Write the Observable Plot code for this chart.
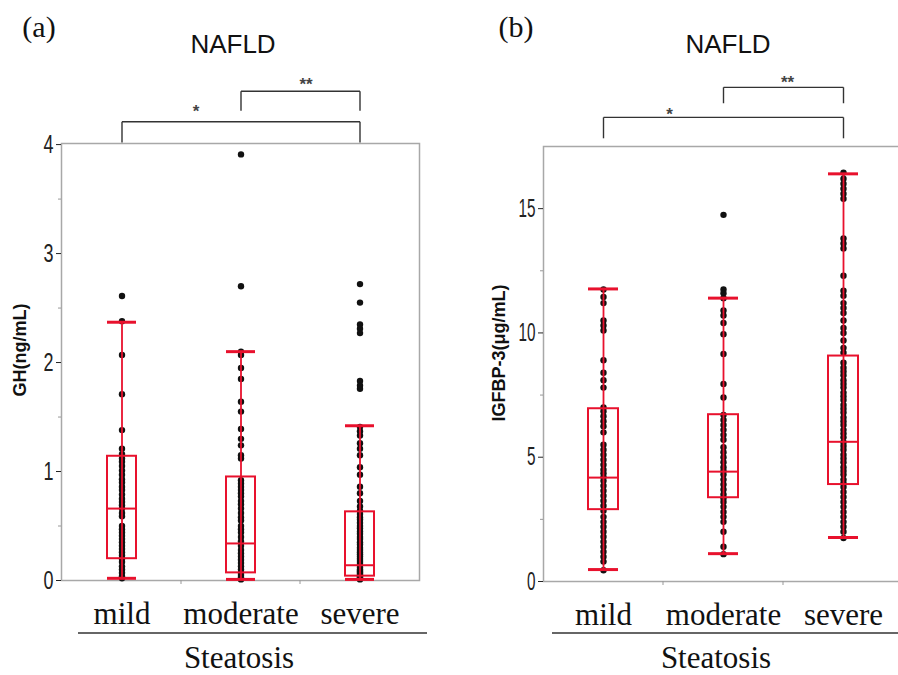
<!DOCTYPE html>
<html><head><meta charset="utf-8">
<script src="https://cdn.jsdelivr.net/npm/d3@7"></script>
<script src="https://cdn.jsdelivr.net/npm/@observablehq/plot@0.6"></script>
<style>
body{margin:0;background:#fff;}
#fig{position:relative;width:898px;height:675px;overflow:hidden;background:#fff;}
#pa{position:absolute;left:0;top:0;width:449px;}
#pb{position:absolute;left:449px;top:0;width:463px;}
#fig svg{max-width:none !important;}
#ov{position:absolute;left:0;top:0;pointer-events:none;}
</style></head><body>
<div id="fig"><div id="pa"></div><div id="pb"></div></div>
<script>
// ---------- data ----------
const categories = ["mild", "moderate", "severe"];
const panelLabels = ["(a)", "(b)"];
const panelTitle = "NAFLD";
const xTitle = "Steatosis";
const ghLabel = "GH(ng/mL)";
const igLabel = "IGFBP-3(μg/mL)";

const ghTicks = [0, 1, 2, 3, 4];
const ghMinorTicks = [0.5, 1.5, 2.5, 3.5];
const igTicks = [0, 5, 10, 15];
const igMinorTicks = [2.5, 7.5, 12.5];

// box statistics (whisker low, Q1, median, Q3, whisker high)
const ghLo  = [0.02, 0.01, 0.01];
const ghQ1  = [0.20, 0.07, 0.04];
const ghMed = [0.66, 0.34, 0.14];
const ghQ3  = [1.14, 0.95, 0.63];
const ghHi  = [2.37, 2.10, 1.42];

const igLo  = [0.48, 1.12, 1.77];
const igQ1  = [2.89, 3.37, 3.90];
const igMed = [4.18, 4.42, 5.62];
const igQ3  = [6.95, 6.71, 9.07];
const igHi  = [11.77, 11.40, 16.40];

// individual observations
const ghMild = [2.61, 2.38, 2.07, 1.71, 1.38, 1.21, 1.16, 1.12, 1.09, 1.05, 1.01, 0.97, 0.93, 0.9, 0.86, 0.83, 0.79, 0.75, 0.72, 0.69, 0.66, 0.62, 0.59, 0.5, 0.47, 0.44, 0.41, 0.38, 0.35, 0.32, 0.29, 0.26, 0.23, 0.2, 0.17, 0.13, 0.1, 0.07, 0.04, 0.02];
const ghModerate = [3.91, 2.70, 2.10, 2.07, 1.95, 1.85, 1.64, 1.55, 1.39, 1.30, 1.24, 1.15, 1.12, 0.92, 0.89, 0.86, 0.83, 0.8, 0.77, 0.73, 0.7, 0.66, 0.62, 0.58, 0.55, 0.5, 0.47, 0.44, 0.4, 0.36, 0.32, 0.28, 0.25, 0.22, 0.19, 0.16, 0.13, 0.1, 0.07, 0.05, 0.03, 0.01];
const ghSevere = [2.72, 2.55, 2.35, 2.31, 2.27, 1.83, 1.79, 1.76, 1.41, 1.37, 1.33, 1.26, 1.21, 1.15, 1.04, 0.97, 0.86, 0.8, 0.73, 0.68, 0.64, 0.61, 0.58, 0.56, 0.53, 0.5, 0.48, 0.45, 0.43, 0.4, 0.38, 0.35, 0.33, 0.3, 0.28, 0.26, 0.24, 0.22, 0.2, 0.18, 0.16, 0.14, 0.12, 0.1, 0.09, 0.08, 0.07, 0.06, 0.05, 0.04, 0.03, 0.02, 0.01];

const igMild = [11.75, 11.45, 11.2, 10.5, 10.3, 10.1, 8.9, 8.4, 8.1, 7.8, 7.0, 6.85, 6.65, 6.45, 6.25, 6.0, 5.5, 5.3, 5.1, 4.9, 4.7, 4.5, 4.35, 4.2, 4.05, 3.85, 3.65, 3.45, 3.25, 3.05, 2.85, 2.6, 2.4, 2.2, 2.0, 1.8, 1.6, 1.4, 1.2, 1.0, 0.8, 0.45];
const igModerate = [14.75, 11.75, 11.6, 11.4, 10.9, 10.7, 10.4, 9.95, 9.15, 7.95, 7.4, 6.7, 6.5, 6.3, 6.1, 5.9, 5.7, 5.4, 5.2, 5.0, 4.8, 4.6, 4.45, 4.3, 4.1, 3.9, 3.7, 3.5, 3.35, 3.2, 3.0, 2.8, 2.6, 2.4, 2.0, 1.4, 1.1];
const igSevere = [16.45, 16.2, 16.0, 15.8, 15.6, 15.4, 13.8, 13.6, 13.4, 12.3, 11.7, 11.5, 11.2, 11.0, 10.8, 10.5, 10.2, 10.0, 9.7, 9.4, 9.2, 8.8, 8.6, 8.45, 8.3, 8.1, 7.95, 7.8, 7.6, 7.45, 7.3, 7.1, 6.95, 6.8, 6.6, 6.45, 6.3, 6.1, 5.95, 5.8, 5.6, 5.45, 5.3, 5.1, 4.95, 4.8, 4.6, 4.45, 4.3, 4.1, 3.95, 3.8, 3.6, 3.4, 3.2, 3.0, 2.8, 2.6, 2.4, 2.2, 2.0, 1.75];

// significance brackets (levels in data units)
const ghBrackets = [
  {from: "mild", to: "severe", level: 4.21, legEnd: 4.02, label: "*", labelAt: "moderate", labelY: 4.25, side: -1},
  {from: "moderate", to: "severe", level: 4.49, legEnd: 4.31, label: "**", labelAt: "moderate", labelY: 4.5, side: 1}
];
const igBrackets = [
  {from: "mild", to: "severe", level: 18.67, legEnd: 17.83, label: "*", labelAt: "moderate", labelY: 18.55, side: -1},
  {from: "moderate", to: "severe", level: 19.88, legEnd: 19.24, label: "**", labelAt: "moderate", labelY: 19.85, side: 1}
];

// ---------- drawing ----------
const RED = "#e8112d";
const SANS = "'Liberation Sans',Arial,sans-serif";
const SERIF = "'Liberation Serif','Times New Roman',serif";

function statsOf(lo, q1, med, q3, hi) {
  return categories.map((cat, i) => ({cat, lo: lo[i], q1: q1[i], med: med[i], q3: q3[i], hi: hi[i]}));
}
function pointsOf(groups) {
  return categories.flatMap((cat, i) => groups[i].map(v => ({cat, v})));
}

function boundaryTicks(index, scales, values, dims) {
  const g = d3.create("svg:g").attr("stroke", "#999").attr("stroke-width", 1);
  const y0 = dims.height - dims.marginBottom;
  for (let i = 1; i < categories.length; i++) {
    const xb = scales.x(categories[i]);
    g.append("line").attr("x1", xb).attr("x2", xb).attr("y1", y0).attr("y2", y0 + 4);
  }
  return g.node();
}

function panel({stats, points, ticks, minor, domain, brackets, width, marginLeft, marginRight, marginTop, marginBottom, starDx, starsDx}) {
  const legs = brackets.flatMap(b => [{x: b.from, y1: b.level, y2: b.legEnd}, {x: b.to, y1: b.level, y2: b.legEnd}]);
  const starStyle = {lineAnchor: "bottom", fontSize: 17, fontWeight: "bold", fontFamily: SANS, fill: "#444"};
  return Plot.plot({
    width, height: 675, marginLeft, marginRight, marginTop, marginBottom,
    style: {background: "transparent", overflow: "visible"},
    x: {type: "band", domain: categories, padding: 0},
    y: {domain},
    marks: [
      Plot.frame({stroke: "#a8a8a8", strokeWidth: 1.5}),
      Plot.axisY(minor, {tickSize: 3, tickFormat: () => "", color: "#999"}),
      Plot.axisY(ticks, {tickSize: 5, tickPadding: 3, tickFormat: d => String(d), fontSize: 25, fontFamily: SANS, color: "#222", label: null, ariaLabel: "ytick"}),
      Plot.axisX({tickSize: 0, tickPadding: 21, fontSize: 31, fontFamily: SERIF, color: "#111", label: null}),
      boundaryTicks,
      Plot.dot(points, {x: "cat", y: "v", r: 3.2, fill: "#111", stroke: "none"}),
      Plot.ruleX(stats, {x: "cat", y1: "lo", y2: "hi", stroke: RED, strokeWidth: 1.8}),
      Plot.tickY(stats, {x: "cat", y: "lo", stroke: RED, strokeWidth: 3, insetLeft: 45, insetRight: 45}),
      Plot.tickY(stats, {x: "cat", y: "hi", stroke: RED, strokeWidth: 3, insetLeft: 45, insetRight: 45}),
      Plot.barY(stats, {x: "cat", y1: "q1", y2: "q3", fill: "none", stroke: RED, strokeWidth: 2, insetLeft: 45, insetRight: 45}),
      Plot.tickY(stats, {x: "cat", y: "med", stroke: RED, strokeWidth: 2, insetLeft: 45, insetRight: 45}),
      Plot.link(brackets, {x1: "from", x2: "to", y1: "level", y2: "level", stroke: "#333", strokeWidth: 1.4}),
      Plot.link(legs, {x1: "x", x2: "x", y1: "y1", y2: "y2", stroke: "#333", strokeWidth: 1.4}),
      Plot.text(brackets.filter(b => b.side < 0), {x: "labelAt", y: "labelY", text: "label", dx: starDx, ...starStyle}),
      Plot.text(brackets.filter(b => b.side > 0), {x: "labelAt", y: "labelY", text: "label", dx: starsDx, ...starStyle})
    ]
  });
}

// enlarge and narrow the major y tick labels to match the condensed face of the original
function condenseTicks(svg, perChar) {
  const texts = Array.from(svg.querySelectorAll("text")).filter(t => {
    const s = t.textContent.trim();
    return s !== "" && /^\d+$/.test(s);
  });
  for (const t of texts) {
    t.style.fontSize = "25px";
    t.style.fontFamily = SANS;
    t.setAttribute("textLength", t.textContent.trim().length * perChar);
    t.setAttribute("lengthAdjust", "spacingAndGlyphs");
  }
}

const svgA = panel({
  stats: statsOf(ghLo, ghQ1, ghMed, ghQ3, ghHi),
  points: pointsOf([ghMild, ghModerate, ghSevere]),
  ticks: ghTicks, minor: ghMinorTicks, domain: [0, 4.01], brackets: ghBrackets,
  width: 449, marginLeft: 61, marginRight: 30, marginTop: 143, marginBottom: 95,
  starDx: -45, starsDx: 65
});
document.getElementById("pa").append(svgA);
condenseTicks(svgA, 10);

const svgB = panel({
  stats: statsOf(igLo, igQ1, igMed, igQ3, igHi),
  points: pointsOf([igMild, igModerate, igSevere]),
  ticks: igTicks, minor: igMinorTicks, domain: [0, 17.5], brackets: igBrackets,
  width: 463, marginLeft: 94, marginRight: 9, marginTop: 146, marginBottom: 94,
  starDx: -54, starsDx: 64
});
document.getElementById("pb").append(svgB);
condenseTicks(svgB, 8.5);

// ---------- titles, panel letters, axis titles ----------
const ov = d3.select("#fig").append("svg").attr("id", "ov").attr("width", 898).attr("height", 675);
const panels = [
  {letter: panelLabels[0], lx: 39, tx: 233, ylab: ghLabel, yx: 20, yy: 350, sx: 239, l1: 78, l2: 427},
  {letter: panelLabels[1], lx: 516, tx: 728, ylab: igLabel, yx: 499, yy: 353, sx: 716, l1: 552, l2: 898}
];
for (const p of panels) {
  ov.append("text").attr("x", p.lx).attr("y", 37).attr("text-anchor", "middle")
    .style("font", `30px ${SERIF}`).attr("fill", "#111").text(p.letter);
  ov.append("text").attr("x", p.tx).attr("y", 53).attr("text-anchor", "middle")
    .style("font", `26px ${SANS}`).attr("fill", "#111").text(panelTitle);
  ov.append("text").attr("transform", `translate(${p.yx},${p.yy}) rotate(-90)`).attr("text-anchor", "middle")
    .attr("dominant-baseline", "central").style("font", `bold 18px ${SANS}`).attr("fill", "#111").text(p.ylab);
  ov.append("line").attr("x1", p.l1).attr("x2", p.l2).attr("y1", 633).attr("y2", 633).attr("stroke", "#333").attr("stroke-width", 1.5);
  ov.append("text").attr("x", p.sx).attr("y", 668).attr("text-anchor", "middle")
    .style("font", `31px ${SERIF}`).attr("fill", "#111").text(xTitle);
}
</script></body></html>
